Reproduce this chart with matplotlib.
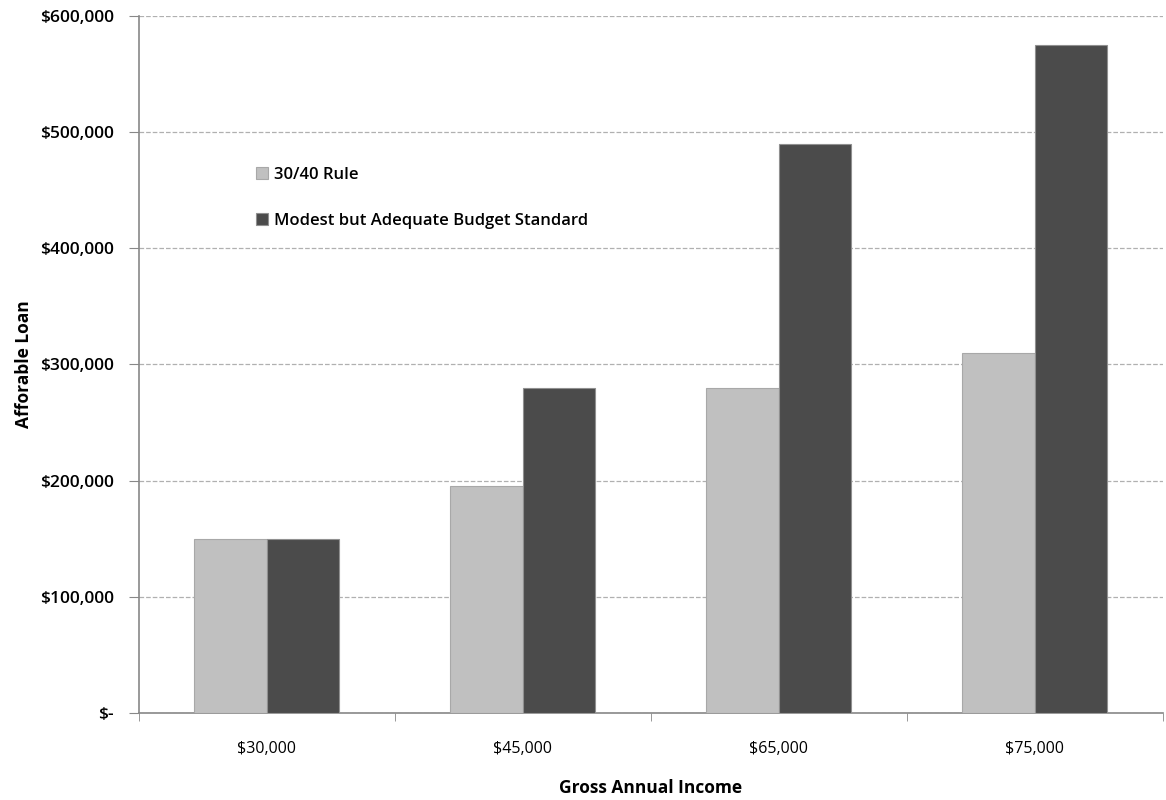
import matplotlib.pyplot as plt
import numpy as np

incomes = ["$30,000", "$45,000", "$65,000", "$75,000"]
rule_3040 = [150000, 195000, 280000, 310000]
modest_budget = [150000, 280000, 490000, 575000]
y_ticks = [0, 100000, 200000, 300000, 400000, 500000, 600000]
y_labels = ["$-", "$100,000", "$200,000", "$300,000", "$400,000", "$500,000", "$600,000"]

plt.rcParams['font.family'] = ['Open Sans', 'DejaVu Sans']

fig = plt.figure(figsize=(11.66, 8), dpi=100)
ax = fig.add_axes([0.119, 0.109, 0.878, 0.871])

x = np.arange(len(incomes))
w = 0.283
ax.bar(x - w / 2, rule_3040, w, color='#c0c0c0', edgecolor='#a8a8a8', linewidth=0.8,
       label='30/40 Rule', zorder=3)
ax.bar(x + w / 2, modest_budget, w, color='#4b4b4b', edgecolor='#909090', linewidth=0.8,
       label='Modest but Adequate Budget Standard', zorder=3)

ax.set_xlim(-0.5, len(incomes) - 0.5)
ax.set_ylim(0, 600000)
ax.set_yticks(y_ticks)
ax.set_yticklabels(y_labels, fontsize=12.5, fontweight='semibold')
ax.set_xticks(x)
ax.set_xticklabels(incomes, fontsize=11.5)
ax.set_xticks(np.arange(len(incomes) + 1) - 0.5, minor=True)
ax.tick_params(axis='x', which='major', length=0, pad=20)
ax.tick_params(axis='x', which='minor', length=6, color='#888888')
ax.tick_params(axis='y', length=7, color='#888888', pad=11)

ax.grid(axis='y', linestyle='--', color='#b0b0b0', linewidth=0.9, zorder=0)
for s in ['top', 'right']:
    ax.spines[s].set_visible(False)
for s in ['left', 'bottom']:
    ax.spines[s].set_color('#888888')
    ax.spines[s].set_linewidth(1.2)

ax.set_ylabel('Afforable Loan', fontsize=12.5, fontweight='bold', labelpad=5)
ax.set_xlabel('Gross Annual Income', fontsize=12.5, fontweight='bold', labelpad=16)

ax.legend(loc='upper left', bbox_to_anchor=(0.1, 0.805), frameon=False,
          handlelength=0.7, handleheight=0.7, labelspacing=1.8, handletextpad=0.4,
          prop={'weight': 'semibold', 'size': 12})

fig.savefig('out.png', dpi=100)
